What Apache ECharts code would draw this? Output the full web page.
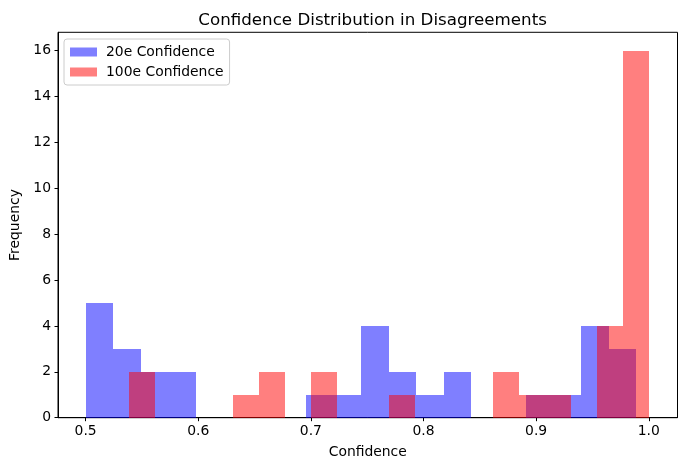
<!DOCTYPE html>
<html>
<head>
<meta charset="utf-8">
<script src="https://cdn.jsdelivr.net/npm/echarts@6/dist/echarts.min.js"></script>
<style>html,body{margin:0;padding:0;background:#fff}#c{width:687px;height:470px}</style>
</head>
<body>
<div id="c"></div>
<script>
// Histogram 1: "20e Confidence" – 20 equal bins between blueMin and blueMax
const blueName = '20e Confidence';
const blueMin = 0.5003;
const blueMax = 0.989;
const blueCounts = [5, 3, 2, 2, 0, 0, 0, 0, 1, 1, 4, 2, 1, 2, 0, 0, 1, 1, 4, 3];

// Histogram 2: "100e Confidence" – 20 equal bins between redMin and redMax
const redName = '100e Confidence';
const redMin = 0.5385;
const redMax = 1.0;
const redCounts = [2, 0, 0, 0, 1, 2, 0, 2, 0, 0, 1, 0, 0, 0, 2, 1, 1, 0, 4, 16];

const xTicks = [0.5, 0.6, 0.7, 0.8, 0.9, 1.0];
const yTicks = [0, 2, 4, 6, 8, 10, 12, 14, 16];

function bins(min, max, counts) {
  const w = (max - min) / counts.length;
  return counts.map((c, i) => [min + i * w, min + (i + 1) * w, c]);
}

function renderBar(params, api) {
  const x0 = api.value(0), x1 = api.value(1), c = api.value(2);
  if (!c) return null;
  const p0 = api.coord([x0, 0]);
  const p1 = api.coord([x1, c]);
  const left = Math.round(p0[0]), right = Math.round(p1[0]);
  const top = Math.round(p1[1]), bottom = Math.round(p0[1]);
  return {
    type: 'rect',
    shape: { x: left, y: top, width: right - left, height: bottom - top },
    style: { fill: api.visual('color') }
  };
}

const font = 'DejaVu Sans';
const chart = echarts.init(document.getElementById('c'), null, { renderer: 'canvas' });
chart.setOption({
  animation: false,
  backgroundColor: '#fff',
  title: {
    text: 'Confidence Distribution in Disagreements',
    left: 367.6, top: 7, textAlign: 'center',
    textStyle: { fontFamily: font, fontSize: 16.7, fontWeight: 'normal', color: '#000' }
  },
  legend: {
    orient: 'vertical', left: 64, top: 39,
    padding: [6, 6, 6, 6], itemGap: 6,
    itemWidth: 27, itemHeight: 9,
    backgroundColor: 'rgba(255,255,255,0.8)', borderColor: '#cccccc', borderWidth: 1, borderRadius: 3,
    textStyle: { fontFamily: font, fontSize: 13.9, color: '#000', lineHeight: 14, padding: [0, 0, 0, 4] },
    data: [{ name: blueName, icon: 'rect' }, { name: redName, icon: 'rect' }]
  },
  grid: { left: 58, top: 32.3, right: 9.5, bottom: 52.3, show: true, borderColor: '#000', borderWidth: 1, backgroundColor: 'transparent' },
  xAxis: {
    type: 'value', min: 0.4755, max: 1.0255,
    name: 'Confidence', nameLocation: 'middle', nameGap: 28,
    nameTextStyle: { fontFamily: font, fontSize: 13.9, color: '#000' },
    axisLine: { show: true, onZero: false, lineStyle: { color: '#000', width: 1 } },
    axisTick: { show: true, length: 3.5, customValues: xTicks, lineStyle: { color: '#000' } },
    axisLabel: { customValues: xTicks, margin: 7, fontFamily: font, fontSize: 13.9, color: '#000', formatter: v => v.toFixed(1) },
    splitLine: { show: false }
  },
  yAxis: {
    type: 'value', min: 0, max: 16.8,
    name: 'Frequency', nameLocation: 'middle', nameGap: 34,
    nameTextStyle: { fontFamily: font, fontSize: 13.9, color: '#000' },
    axisLine: { show: true, lineStyle: { color: '#000', width: 1 } },
    axisTick: { show: true, length: 3.5, customValues: yTicks, lineStyle: { color: '#000' } },
    axisLabel: { customValues: yTicks, margin: 7, fontFamily: font, fontSize: 13.9, color: '#000' },
    splitLine: { show: false }
  },
  series: [
    {
      name: blueName, type: 'custom', renderItem: renderBar,
      itemStyle: { color: 'rgba(0,0,255,0.5)' },
      encode: { x: [0, 1], y: 2 },
      data: bins(blueMin, blueMax, blueCounts)
    },
    {
      name: redName, type: 'custom', renderItem: renderBar,
      itemStyle: { color: 'rgba(255,0,0,0.5)' },
      encode: { x: [0, 1], y: 2 },
      data: bins(redMin, redMax, redCounts)
    }
  ]
});
</script>
</body>
</html>
